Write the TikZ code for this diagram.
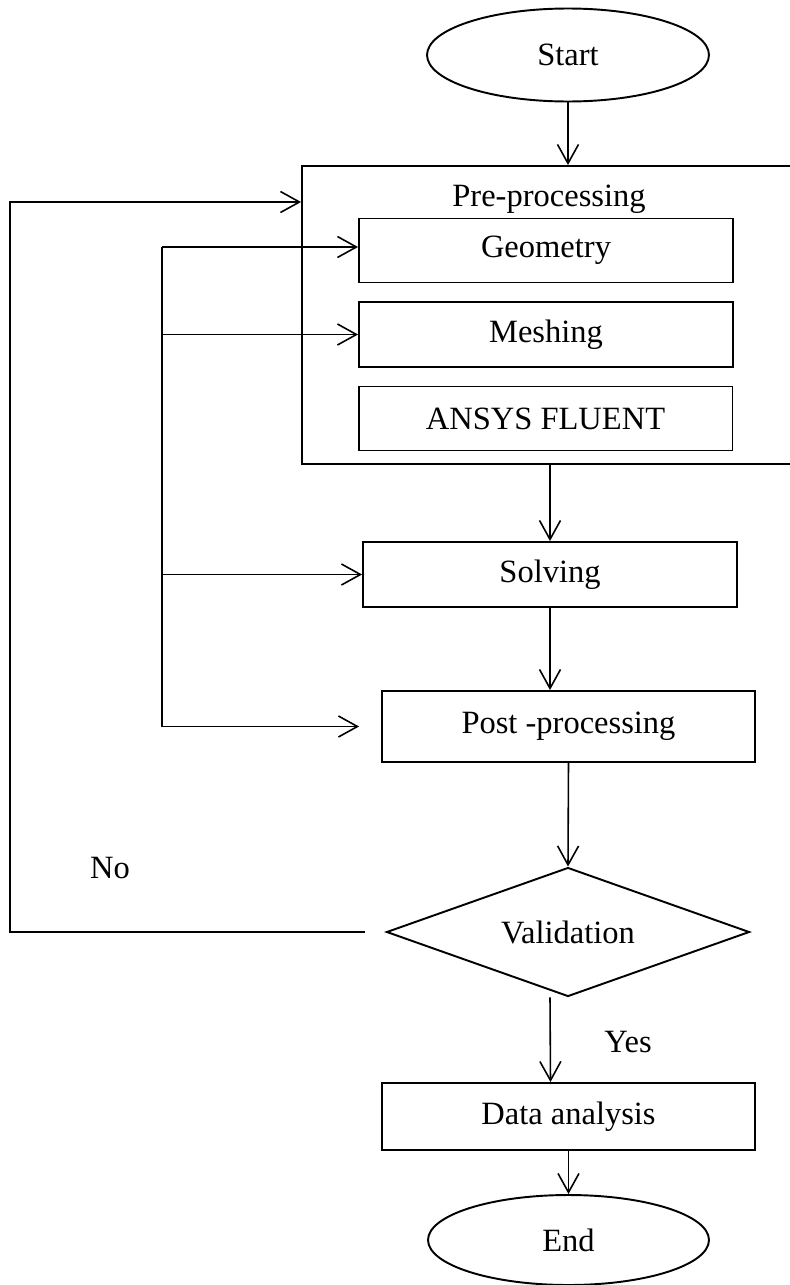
\documentclass[tikz,border=0pt]{standalone}
\usepackage{fontspec}
\setmainfont{Liberation Serif}
\usetikzlibrary{shapes.geometric,arrows.meta}
\begin{document}
\begin{tikzpicture}[x=0.02cm, y=-0.02cm, >={Straight Barb[length=0.38cm,width=0.42cm,line width=0.9pt]}, font=\fontsize{18.5}{22}\selectfont, line width=0.9pt]
      \tikzset{box/.style={draw, line width=1.1pt, rectangle, inner sep=0pt, minimum width=7.48cm, minimum height=1.28cm, align=center},
               term/.style={draw, line width=1.1pt, ellipse, inner sep=0pt, minimum width=5.64cm, minimum height=1.86cm},
               decide/.style={draw, line width=1.1pt, diamond, inner sep=0pt, aspect=2.8, minimum width=7.26cm, minimum height=2.58cm}}
      \useasboundingbox (0,0) rectangle (789,1285);
      \node[term] (start) at (568,55) {Start};
      \node[draw, line width=1.1pt, rectangle, minimum width=9.96cm, minimum height=5.96cm] (pre) at (551,315) {};
      \node (prelbl) at (549,199) {Pre-processing};
      \node[box] (geo) at (546,250.5) {Geometry};
      \node[box, minimum height=1.3cm] (mesh) at (546,334.5) {Meshing};
      \node[box] (fluent) at (545.5,418.5) {ANSYS FLUENT};
      \node[box, minimum height=1.3cm] (solve) at (550,574.5) {Solving};
      \node[box, minimum width=7.46cm, minimum height=1.42cm] (post) at (568.5,726.5) {Post -processing};
      \node[decide] (valid) at (568,932) {Validation};
      \node[box, minimum width=7.46cm, minimum height=1.34cm] (data) at (568.5,1116.5) {Data analysis};
      \node[term, minimum width=5.62cm, minimum height=1.8cm] (fin) at (568.5,1240) {End};
      \node (yes) at (628,1042) {Yes};
      \node (no) at (110,868) {No};
      \coordinate (bus) at (162,247);
      \coordinate (loop) at (10,202);
      % main flow
      \draw[->] (start.south) -- (start.south |- pre.north);
      \draw[->] (solve.north |- pre.south) -- (solve.north);
      \draw[->] (solve.south) -- (solve.south |- post.north);
      \draw[->] (post.south) -- (valid.north);
      \draw[->] ([xshift=-0.36cm]valid.south) -- ([xshift=-0.36cm]data.north);
      \draw[->] (data.south) -- (fin.north);
      % feedback when validation fails
      \draw[->] ([xshift=-0.42cm]valid.west) -| (loop) -- (loop -| pre.west);
      % side bus into each stage
      \draw (bus) -- (bus |- post.west);
      \draw[->] (bus) -- (bus -| geo.west);
      \draw[->] (bus |- mesh.west) -- (mesh.west);
      \draw[->] (bus |- solve.west) -- (solve.west);
      \draw[->] (bus |- post.west) -- ([xshift=-0.44cm]post.west);
    \end{tikzpicture}
\end{document}
